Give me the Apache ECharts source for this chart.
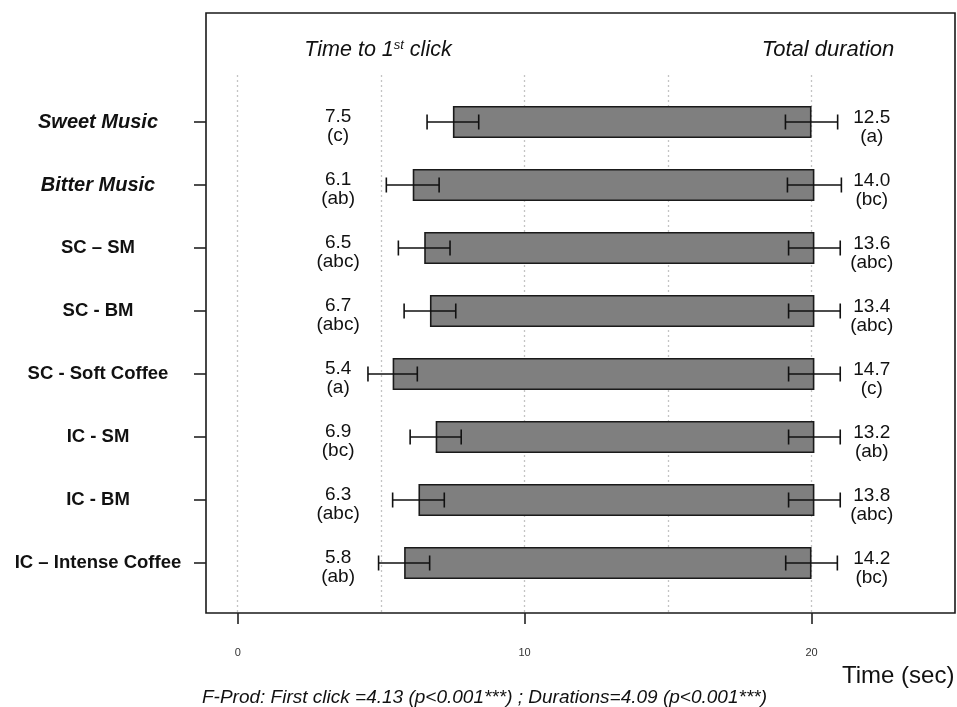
<!DOCTYPE html>
<html>
<head>
<meta charset="utf-8">
<script src="https://cdn.jsdelivr.net/npm/echarts@6/dist/echarts.min.js"></script>
<style>
  html, body { margin: 0; padding: 0; background: #fff; }
  #chart { width: 957px; height: 707px; }
</style>
</head>
<body>
<div id="chart"></div>
<script>
// Conditions, top to bottom
const categories = ['Sweet Music', 'Bitter Music', 'SC – SM', 'SC - BM', 'SC - Soft Coffee', 'IC - SM', 'IC - BM', 'IC – Intense Coffee'];
// Mean time to first click (sec) and its homogeneous-group letters
const firstClick = [7.5, 6.1, 6.5, 6.7, 5.4, 6.9, 6.3, 5.8];
const firstClickGroup = ['c', 'ab', 'abc', 'abc', 'a', 'bc', 'abc', 'ab'];
const firstClickErr = [0.9, 0.92, 0.9, 0.9, 0.86, 0.89, 0.9, 0.89];
// Mean total duration (sec) and its homogeneous-group letters
const duration = [12.5, 14.0, 13.6, 13.4, 14.7, 13.2, 13.8, 14.2];
const durationGroup = ['a', 'bc', 'abc', 'abc', 'c', 'ab', 'abc', 'bc'];
const durationErr = [0.91, 0.94, 0.9, 0.9, 0.9, 0.9, 0.9, 0.9];
// Axis ticks
const xTickValues = [0, 10, 20];
const italicCategories = ['Sweet Music', 'Bitter Music'];

const FONT = "'Liberation Sans', Arial, Helvetica, sans-serif";
const INK = '#111';

// Layout of the figure
const frame = { left: 206, top: 13, width: 749, height: 600 };
const zeroX = 237.7;            // pixel of t = 0
const xMax = 25;
const plotRight = 957 - (frame.left + frame.width);
const pxPerSec = (frame.left + frame.width - zeroX) / xMax;
const frameMinX = -(zeroX - frame.left) / pxPerSec;   // time value at the frame's left edge
const bandTop = 90.5, bandHeight = 504;
const leftLabelAt = 3.5;        // data x of the first-click annotations
const rightLabelAt = 22.1;      // data x of the duration annotations

const chart = echarts.init(document.getElementById('chart'), null, { renderer: 'canvas' });

const errorData = categories.map((c, i) => [firstClick[i], i, duration[i], firstClickErr[i], durationErr[i]]);

function renderErrorsAndLabels(params, api) {
  const i = params.dataIndex;
  const cat = api.value(1);
  const start = api.value(0);
  const end = start + api.value(2);
  const errS = api.value(3), errE = api.value(4);
  const cap = 7.5;
  const ls = { stroke: INK, lineWidth: 1.6 };
  const children = [];
  const whisker = (c, err) => {
    const a = api.coord([c - err, cat]);
    const b = api.coord([c + err, cat]);
    children.push(
      { type: 'line', shape: { x1: a[0], y1: a[1], x2: b[0], y2: b[1] }, style: ls },
      { type: 'line', shape: { x1: a[0], y1: a[1] - cap, x2: a[0], y2: a[1] + cap }, style: ls },
      { type: 'line', shape: { x1: b[0], y1: b[1] - cap, x2: b[0], y2: b[1] + cap }, style: ls }
    );
  };
  whisker(start, errS);
  whisker(end, errE);

  const txt = (x, y, text) => ({
    type: 'text', x: x, y: y,
    style: { text: text, fontSize: 19, fontFamily: FONT, fill: INK, align: 'center', verticalAlign: 'middle' }
  });
  const L = api.coord([leftLabelAt, cat]);
  const R = api.coord([rightLabelAt, cat]);
  children.push(
    txt(L[0], L[1] - 5, firstClick[i].toFixed(1)),
    txt(L[0], L[1] + 14, '(' + firstClickGroup[i] + ')'),
    txt(R[0], R[1] - 4, duration[i].toFixed(1)),
    txt(R[0], R[1] + 15, '(' + durationGroup[i] + ')')
  );
  return { type: 'group', children: children };
}

const option = {
  animation: false,
  backgroundColor: '#ffffff',
  textStyle: { fontFamily: FONT },
  grid: [
    // outer frame
    { left: frame.left, top: frame.top, width: frame.width, height: frame.height,
      show: true, borderColor: '#1a1a1a', borderWidth: 1.6, backgroundColor: 'transparent', outerBoundsMode: 'none' },
    // dotted guides and time ticks
    { left: zeroX, right: plotRight, top: 75, bottom: 707 - (frame.top + frame.height), outerBoundsMode: 'none' },
    // bars
    { left: frame.left, right: plotRight, top: bandTop, height: bandHeight, outerBoundsMode: 'none' }
  ],
  xAxis: [
    { gridIndex: 0, type: 'value', min: 0, max: 1, show: false },
    { gridIndex: 1, type: 'value', min: 0, max: xMax, interval: 5, position: 'bottom',
      axisLine: { show: false }, axisTick: { show: false }, axisLabel: { show: false },
      splitLine: { show: true, showMaxLine: false, lineStyle: { color: '#c4c4c4', width: 1.3, type: [2, 3] } } },
    { gridIndex: 1, type: 'value', min: 0, max: xMax, position: 'bottom',
      axisLine: { show: false },
      axisTick: { show: true, customValues: xTickValues, length: 11, lineStyle: { color: '#222', width: 1.6 } },
      axisLabel: { show: true, customValues: xTickValues, fontSize: 11, color: '#333', margin: 34, fontFamily: FONT },
      splitLine: { show: false } },
    { gridIndex: 2, type: 'value', min: frameMinX, max: xMax, show: false }
  ],
  yAxis: [
    { gridIndex: 0, type: 'value', min: 0, max: 1, show: false },
    { gridIndex: 1, type: 'value', min: 0, max: 1, show: false },
    { gridIndex: 2, type: 'category', inverse: true, data: categories, position: 'left',
      axisLine: { show: false, onZero: false },
      axisTick: { show: true, inside: false, alignWithLabel: true, length: 12, lineStyle: { color: '#222', width: 1.6 } },
      axisLabel: {
        align: 'center', margin: 108, color: INK,
        formatter: v => italicCategories.includes(v) ? '{it|' + v + '}' : '{b|' + v + '}',
        rich: {
          it: { fontStyle: 'italic', fontWeight: 'bold', fontSize: 20, fontFamily: FONT, color: INK },
          b: { fontWeight: 'bold', fontSize: 18.5, fontFamily: FONT, color: INK }
        }
      },
      splitLine: { show: false } }
  ],
  series: [
    { type: 'bar', name: 'offset', xAxisIndex: 3, yAxisIndex: 2, stack: 'time', barWidth: 32,
      data: firstClick, itemStyle: { color: 'transparent' }, silent: true, z: 2 },
    { type: 'bar', name: 'Total duration', xAxisIndex: 3, yAxisIndex: 2, stack: 'time', barWidth: 32,
      data: duration, itemStyle: { color: '#7f7f7f', borderColor: '#1a1a1a', borderWidth: 1.6 }, silent: true, z: 2 },
    { type: 'custom', name: 'errors', xAxisIndex: 3, yAxisIndex: 2, data: errorData,
      encode: { x: 0, y: 1 }, renderItem: renderErrorsAndLabels, silent: true, z: 5, clip: false }
  ],
  graphic: [
    { type: 'text', x: 378, y: 50, z: 10,
      style: {
        text: '{m|Time to 1}{s|st}{m| click}', align: 'center', verticalAlign: 'middle', fill: INK,
        rich: {
          m: { fontStyle: 'italic', fontSize: 21.5, fontFamily: FONT, fill: INK },
          s: { fontStyle: 'italic', fontSize: 13, fontFamily: FONT, fill: INK, verticalAlign: 'top' }
        }
      } },
    { type: 'text', x: 828, y: 50, z: 10,
      style: { text: 'Total duration', fontStyle: 'italic', fontSize: 22, fontFamily: FONT, fill: INK,
        align: 'center', verticalAlign: 'middle' } },
    { type: 'text', x: 842, y: 676, z: 10,
      style: { text: 'Time (sec)', fontSize: 24, fontFamily: FONT, fill: INK, align: 'left', verticalAlign: 'middle' } },
    { type: 'text', x: 202, y: 698, z: 10,
      style: { text: 'F-Prod: First click =4.13 (p<0.001***) ; Durations=4.09 (p<0.001***)',
        fontStyle: 'italic', fontSize: 19, fontFamily: FONT, fill: INK, align: 'left', verticalAlign: 'middle' } }
  ]
};

chart.setOption(option);
</script>
</body>
</html>
